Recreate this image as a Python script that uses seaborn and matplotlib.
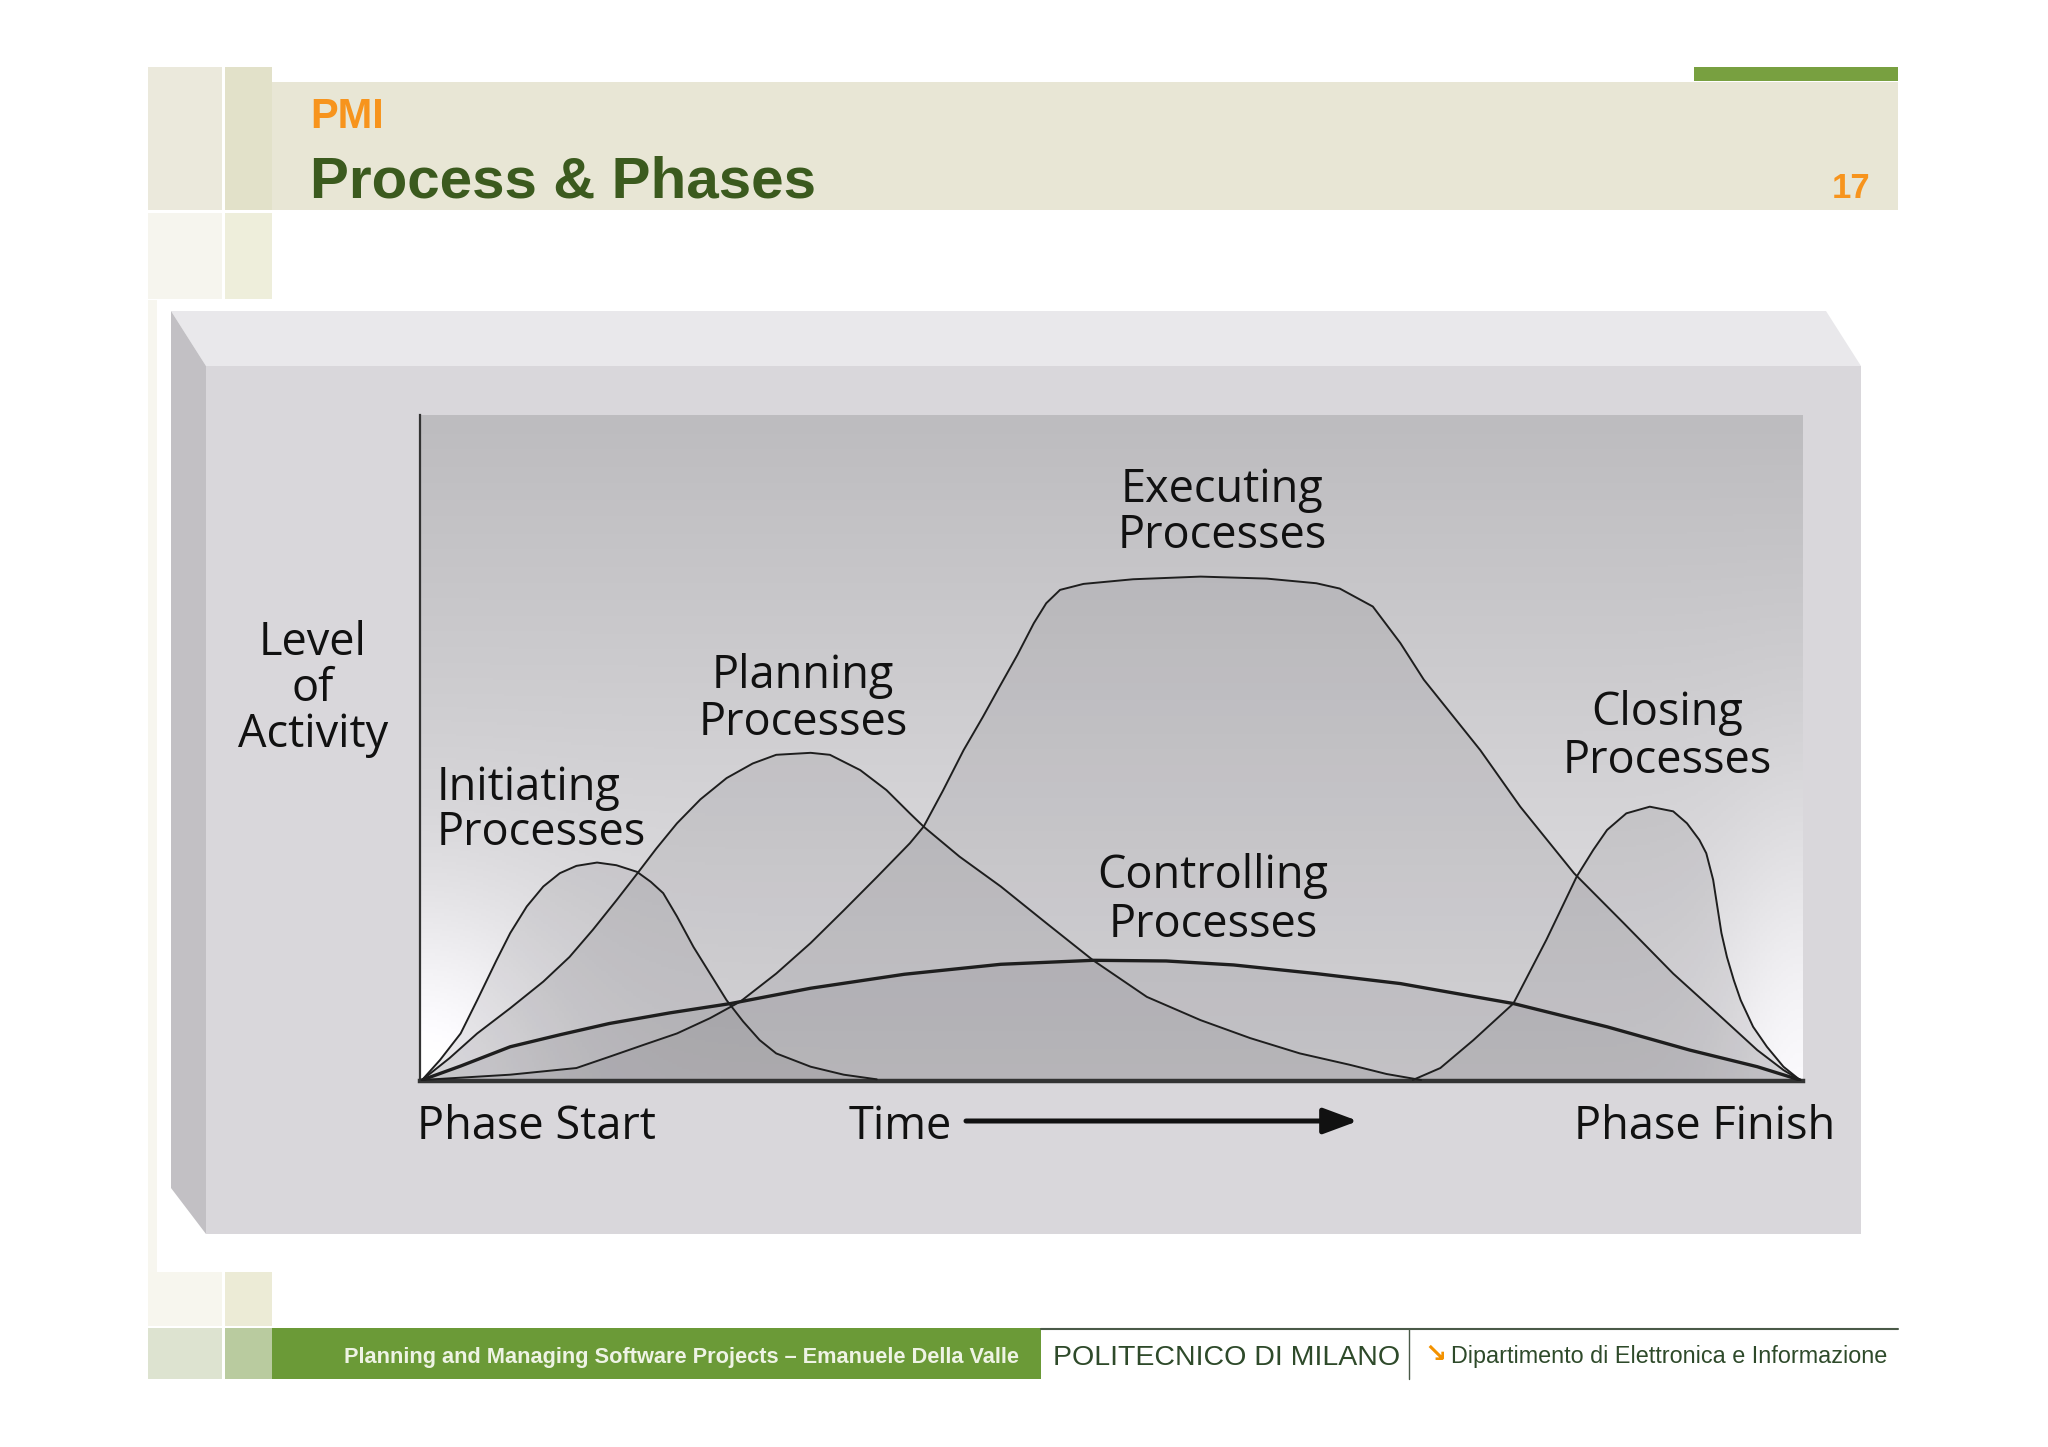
import numpy as np
import matplotlib
matplotlib.use("Agg")
import matplotlib.pyplot as plt
import seaborn as sns
from matplotlib.patches import Rectangle, Polygon

# time axis: 0 = Phase Start, 100 = Phase Finish; level of activity 0-100
initiating_t = [0, 1.3, 2.8, 4.0, 5.4, 6.4, 7.6, 8.8, 10.0, 11.2, 12.7, 14.1, 15.6, 16.6, 17.5,
                18.5, 19.7, 20.9, 22.1, 23.3, 24.5, 25.7, 28.2, 30.6, 33.0]
initiating_lvl = [0, 3.0, 7.0, 12.0, 18.0, 22.1, 26.1, 29.1, 31.1, 32.2, 32.7, 32.3, 31.3, 29.8, 28.1,
                  24.6, 20.0, 16.0, 12.0, 8.8, 6.0, 4.0, 2.0, 0.8, 0.1]

planning_t = [0, 2.0, 4.0, 6.4, 8.8, 10.7, 12.4, 14.1, 15.6, 17.0, 18.5, 20.2, 22.1, 24.0, 25.7, 28.2,
              29.6, 31.8, 33.7, 35.4, 36.4, 39.0, 42.0, 45.3, 48.7, 52.6, 56.5, 60.1, 63.7, 67.3,
              70.0, 72.5]
planning_lvl = [0, 3.3, 7.0, 10.8, 14.8, 18.5, 22.6, 27.0, 31.0, 34.8, 38.6, 42.2, 45.4, 47.6, 48.9,
                49.2, 48.9, 46.6, 43.6, 40.1, 38.1, 33.6, 29.1, 23.6, 18.0, 12.5, 9.0, 6.3, 4.0, 2.3,
                0.9, 0]

executing_t = [0, 6.4, 11.2, 13.6, 16.1, 18.5, 20.9, 23.1, 25.7, 28.2, 30.6, 33.0, 35.4, 36.4, 37.8,
               39.3, 40.7, 41.9, 43.2, 44.4, 45.3, 46.3, 48.0, 51.6, 56.5, 61.3, 64.9, 66.6, 69.0,
               71.0, 72.7, 76.8, 79.7, 83.6, 87.2, 90.8, 94.0, 96.9, 98.8, 100]
executing_lvl = [0, 0.8, 1.8, 3.5, 5.3, 7.0, 9.3, 11.8, 16.0, 20.6, 25.5, 30.5, 35.6, 38.1, 43.5,
                 49.6, 54.6, 59.1, 63.9, 68.7, 71.7, 73.7, 74.6, 75.3, 75.7, 75.4, 74.7, 73.9, 71.2,
                 65.7, 60.2, 49.6, 41.1, 31.1, 23.6, 16.0, 10.0, 4.5, 1.5, 0]

controlling_t = [0, 2.8, 6.4, 10.0, 13.6, 18.0, 22.4, 28.2, 35.0, 42.0, 48.7, 54.0, 58.9, 64.9, 71.0,
                 72.9, 79.2, 86.0, 92.0, 96.9, 100]
controlling_lvl = [0, 2.1, 5.0, 6.8, 8.5, 10.1, 11.5, 13.8, 15.9, 17.4, 18.0, 17.9, 17.3, 16.0, 14.5,
                   13.8, 11.5, 8.0, 4.5, 2.0, 0]

closing_t = [71.9, 73.9, 76.3, 79.2, 81.6, 83.8, 85.0, 86.0, 87.4, 89.1, 90.8, 91.8, 92.7, 93.2, 93.7,
             94.0, 94.3, 94.7, 95.2, 95.7, 96.6, 97.6, 98.8, 100]
closing_lvl = [0, 1.8, 6.0, 11.5, 21.1, 30.6, 34.6, 37.6, 40.1, 41.1, 40.4, 38.6, 36.1, 34.1, 30.1,
               26.1, 22.1, 18.5, 15.0, 12.0, 8.0, 5.0, 2.0, 0]

process_names = ["Initiating", "Planning", "Executing", "Controlling", "Closing"]

sns.set_theme(style="white")
plt.rcParams["font.family"] = ["Open Sans", "DejaVu Sans"]

fig = plt.figure(figsize=(20.48, 14.47), dpi=100)
fig.patch.set_facecolor("white")

# slide background, drawn in pixel coordinates
bg = fig.add_axes([0, 0, 1, 1])
bg.axis("off")

# left decorative column
bg.add_patch(Rectangle((148, 67), 74, 143, color="#ebe9dc", lw=0))
bg.add_patch(Rectangle((225, 67), 47, 143, color="#e2e1c9", lw=0))
bg.add_patch(Rectangle((148, 213), 74, 86, color="#f6f5ee", lw=0))
bg.add_patch(Rectangle((225, 213), 47, 86, color="#eeeedb", lw=0))
bg.add_patch(Rectangle((148, 300), 74, 972, color="#f7f6ef", lw=0))
bg.add_patch(Rectangle((148, 1272), 74, 54, color="#f7f6ee", lw=0))
bg.add_patch(Rectangle((225, 1272), 47, 54, color="#ecebd6", lw=0))
bg.add_patch(Rectangle((148, 1328), 74, 51, color="#dde3d0", lw=0))
bg.add_patch(Rectangle((225, 1328), 47, 51, color="#b9cb9f", lw=0))

# header band
bg.add_patch(Rectangle((272, 82), 1626, 128, color="#e8e6d5", lw=0))
bg.add_patch(Rectangle((1694, 67), 204, 14, color="#78a040", lw=0))
bg.text(310, 128, "PMI", color="#f7941d", fontsize=30, fontweight="bold",
        family="Liberation Sans", va="baseline")
bg.text(310, 198, "Process & Phases", color="#3b5a1e", fontsize=42, fontweight="bold",
        family="Liberation Sans", va="baseline")
bg.text(1870, 198, "17", color="#f7941d", fontsize=25, fontweight="bold",
        family="Liberation Sans", va="baseline", ha="right")

# footer
bg.add_patch(Rectangle((272, 1328), 769, 51, color="#6b9a37", lw=0))
bg.plot([1041, 1898], [1329, 1329], color="#4a5a48", lw=1.5)
bg.plot([1409, 1409], [1329, 1379], color="#4a5a48", lw=1)
bg.text(681, 1358, "Planning and Managing Software Projects – Emanuele Della Valle",
        color="#eef3e4", fontsize=15.7, fontweight="bold", family="Liberation Sans",
        ha="center", va="center")
bg.text(1227, 1358, "POLITECNICO DI MILANO", color="#2e4a2a", fontsize=20.5,
        family="Liberation Sans", ha="center", va="center")
bg.text(1424, 1355, "↘", color="#f39200", fontsize=19, fontweight="bold",
        family="DejaVu Sans", ha="left", va="center")
bg.text(1451, 1357, "Dipartimento di Elettronica e Informazione", color="#2e4a2a",
        fontsize=16.8, family="Liberation Sans", ha="left", va="center")

# white card + 3D box
bg.add_patch(Rectangle((157, 300), 1723, 972, color="white", lw=0))
shadow = np.linspace(200, 255, 40)[:, None] * np.ones((1, 10))
bg.imshow(np.dstack([shadow, shadow - 1, shadow + 2]).clip(0, 255).astype(np.uint8),
          extent=(160, 1880, 1272, 1234), aspect="auto", interpolation="bilinear")
bg.add_patch(Polygon([(171, 311), (1826, 311), (1861, 366), (206, 366)], closed=True,
                     color="#e9e8eb", lw=0))
bg.add_patch(Polygon([(171, 311), (206, 366), (206, 1234), (171, 1188)], closed=True,
                     color="#c2c0c4", lw=0))
bg.add_patch(Rectangle((206, 366), 1655, 868, color="#d9d7db", lw=0))

label_kw = dict(fontsize=32.5, color="#111111", va="baseline")
for txt, yb in [("Level", 655), ("of", 701), ("Activity", 747)]:
    bg.text(313, yb, txt, ha="center", **label_kw)
bg.text(417, 1139, "Phase Start", ha="left", **label_kw)
bg.text(849, 1139, "Time", ha="left", **label_kw)
bg.text(1835, 1139, "Phase Finish", ha="right", **label_kw)
bg.annotate("", xy=(1358, 1121), xytext=(966, 1121),
            arrowprops=dict(arrowstyle="-|>,head_length=0.7,head_width=0.26",
                            lw=3.6, color="#111111", mutation_scale=30,
                            shrinkA=0, shrinkB=0))
bg.set_xlim(0, 2048)
bg.set_ylim(1447, 0)

# chart axes
ax = fig.add_axes([420 / 2048, 1 - 1081 / 1447, 1383 / 2048, 666 / 1447])
xlim = (-0.15, 100.22)
ylim = (-0.15, 100)

T, L = np.meshgrid(np.linspace(0, 100, 600), np.linspace(100, 0, 300))
v = 189 + 40 * (1 - L / 100)
v += 30 * np.exp(-(T / 10) ** 2 - (L / 28) ** 2)
v += 22 * np.exp(-((100 - T) / 6) ** 2 - (L / 40) ** 2)
img = np.dstack([v, v - 1, v + 2]).clip(0, 255).astype(np.uint8)
ax.imshow(img, extent=(xlim[0], xlim[1], ylim[0], ylim[1]), aspect="auto",
          interpolation="bilinear", zorder=0)

series = {
    "Initiating": (initiating_t, initiating_lvl),
    "Planning": (planning_t, planning_lvl),
    "Executing": (executing_t, executing_lvl),
    "Controlling": (controlling_t, controlling_lvl),
    "Closing": (closing_t, closing_lvl),
}
for name in process_names:
    t, lvl = series[name]
    ax.fill_between(t, 0, lvl, color="#6e6c72", alpha=0.15, lw=0, zorder=2)
for name in process_names:
    t, lvl = series[name]
    sns.lineplot(x=t, y=lvl, ax=ax, color="#1e1e1e", sort=False, estimator=None,
                 lw=2.4 if name == "Controlling" else 1.4, zorder=3)

ax.set_xlim(*xlim)
ax.set_ylim(*ylim)
ax.set_xticks([])
ax.set_yticks([])
ax.set_xlabel("")
ax.set_ylabel("")
ax.patch.set_alpha(0)
sns.despine(ax=ax)
ax.spines["left"].set_color("#333333")
ax.spines["left"].set_linewidth(1.6)
ax.spines["bottom"].set_color("#333333")
ax.spines["bottom"].set_linewidth(3.2)

# process labels, placed in slide pixels but drawn above the chart
proc_labels = [
    ("Executing", 1222, 502, "center"), ("Processes", 1222, 548, "center"),
    ("Planning", 803, 688, "center"), ("Processes", 803, 735, "center"),
    ("Initiating", 437, 800, "left"), ("Processes", 437, 845, "left"),
    ("Controlling", 1213, 888, "center"), ("Processes", 1213, 937, "center"),
    ("Closing", 1667, 725, "center"), ("Processes", 1667, 773, "center"),
]
for txt, px, py, ha in proc_labels:
    ax.text(px, py, txt, transform=bg.transData, fontsize=32.5, color="#111111",
            va="baseline", ha=ha, clip_on=False, zorder=5)

fig.savefig("out.png", dpi=100)
